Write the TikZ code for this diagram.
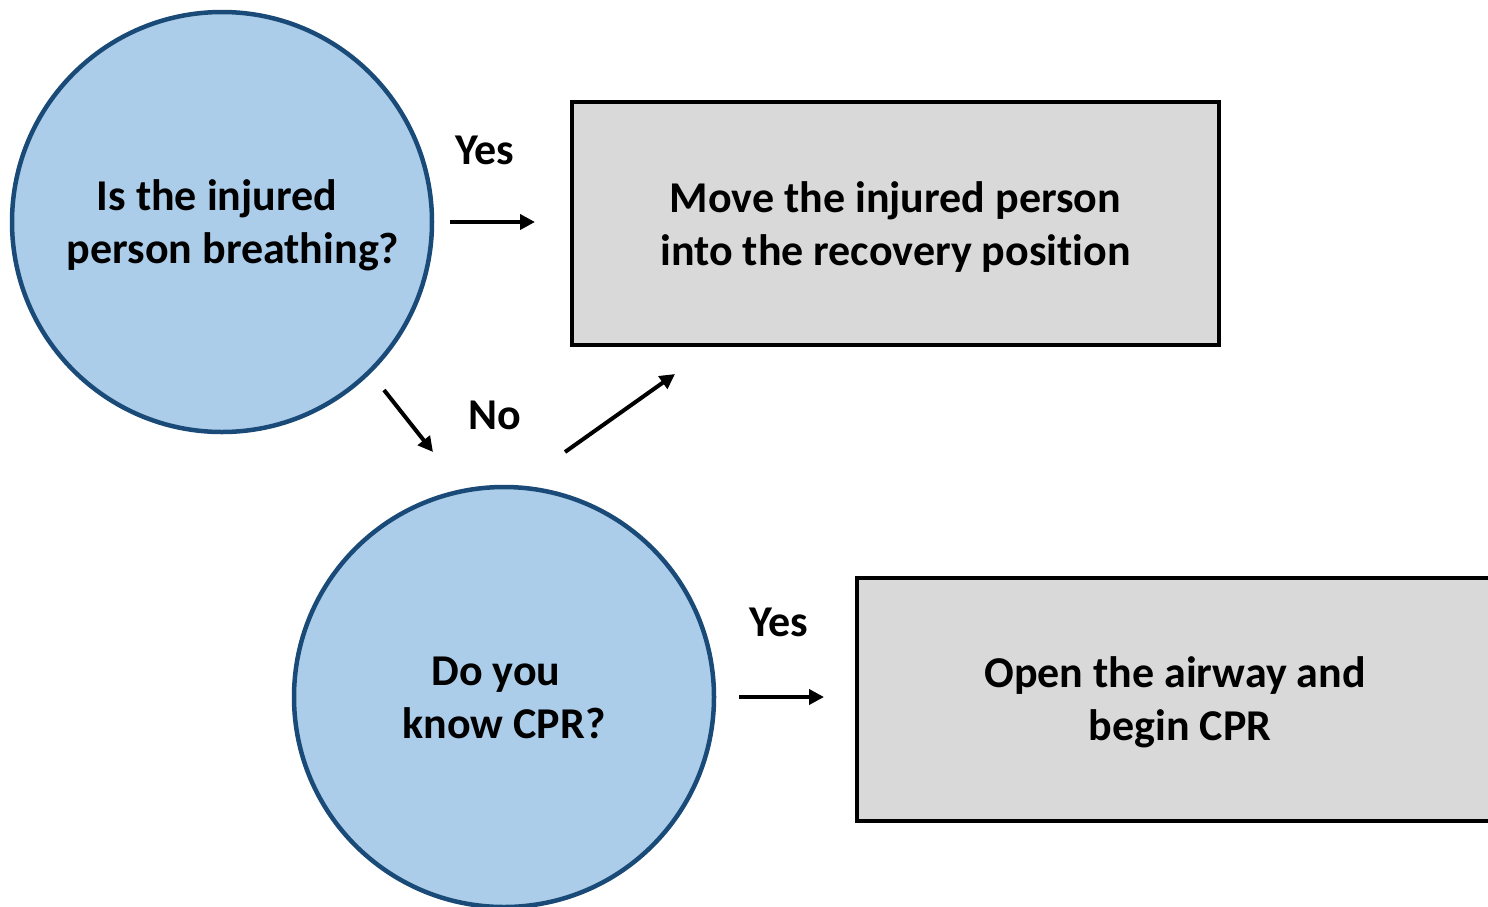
\documentclass[tikz,border=0pt]{standalone}
\usepackage{fontspec}
\setmainfont{Carlito}[Ligatures=NoCommon]
\usetikzlibrary{arrows.meta}
\definecolor{cfill}{HTML}{ABCDEA}
\definecolor{cline}{HTML}{1A4B78}
\definecolor{bfill}{HTML}{D9D9D9}
\newcommand{\topstrut}{\rule{0pt}{38pt}}
\tikzset{
  qcircle/.style={circle, draw=cline, line width=4.5pt, fill=cfill, minimum size=420pt, inner sep=0pt, align=center, font=\fontsize{44}{53}\selectfont\bfseries},
  abox/.style={rectangle, draw=black, line width=4pt, fill=bfill, minimum width=647pt, minimum height=243pt, inner sep=0pt, align=center, font=\fontsize{44}{53}\selectfont\bfseries},
  lbl/.style={inner sep=0pt, font=\fontsize{44}{53}\selectfont\bfseries},
  conn/.style={line width=4pt, -{Triangle[length=15pt,width=15pt]}}
}
\begin{document}
\begin{tikzpicture}[x=1pt,y=-1pt]
\useasboundingbox (0,0) rectangle (1488,906);
\clip (0,0) rectangle (1488,906);
\node[qcircle] (q1) at (222,222) {\topstrut Is the injured\hspace*{10pt}\\\hspace{22pt}person breathing?};
\node[qcircle] (q2) at (504,697) {\topstrut Do you\hspace*{16pt}\\know CPR?\rule[-8pt]{0pt}{8pt}};
\node[abox] (b1) at (895.5,223) {\topstrut Move the injured person\\into the recovery position};
\node[abox] (b2) at (1180,699) {\topstrut Open the airway and\hspace*{10pt}\\begin CPR};
\node[lbl] (y1) at (485,150) {Yes};
\node[lbl] (n1) at (495,415) {No};
\node[lbl] (y2) at (779,622) {Yes};
\coordinate (a1s) at (450,222);
\coordinate (a1e) at (535,222);
\coordinate (a2s) at (384,390);
\coordinate (a2e) at (433,452);
\coordinate (a3s) at (565,452);
\coordinate (a3e) at (675,374);
\coordinate (a4s) at (739,697);
\coordinate (a4e) at (824,697);
\draw[conn] (a1s) -- (a1e);
\draw[conn] (a2s) -- (a2e);
\draw[conn] (a3s) -- (a3e);
\draw[conn] (a4s) -- (a4e);
\end{tikzpicture}
\end{document}
